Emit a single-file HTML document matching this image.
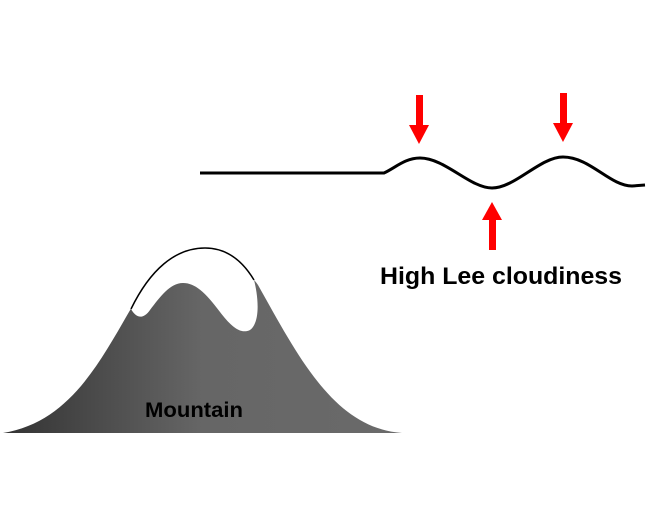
<!DOCTYPE html>
<html><head><style>html,body{margin:0;padding:0;background:#fff}svg{display:block}</style></head>
<body>
<svg width="650" height="524" viewBox="0 0 650 524" xmlns="http://www.w3.org/2000/svg">
<defs>
<linearGradient id="g" x1="0" x2="1" y1="0" y2="0">
<stop offset="0" stop-color="#333"/><stop offset="0.5" stop-color="#666"/><stop offset="1" stop-color="#6a6a6a"/>
</linearGradient>
</defs>
<path d="M3,433 C70,422 100,362 133,305 C160,255 235,250 258,285 C300,360 335,428 402,433 Z" fill="url(#g)"/>
<path d="M131,309 C150,270 175,248 205,248 C230,248 245,265 254,280 C258,295 261,322 250,330 C240,335 230,325 220,312 C205,292 195,283 183,283 C170,283 160,297 150,310 C143,320 136,318 131,309 Z" fill="#fff"/>
<path d="M131,309 C150,270 175,248 205,248 C230,248 245,265 254,280" fill="none" stroke="#000" stroke-width="1.5"/>
<text x="145" y="417" textLength="98" lengthAdjust="spacingAndGlyphs" font-family="Liberation Sans, sans-serif" font-weight="bold" font-size="21">Mountain</text>
<path d="M200,173 L384,173 C395,168 405,158 420,158 C445,158 470,188 492,188 C515,188 540,157 563,157 C590,157 610,186 632,186 L645,185" fill="none" stroke="#000" stroke-width="3"/>
<g fill="#f00">
<rect x="416" y="95" width="7" height="32"/><polygon points="409,125 429,125 419,144"/>
<rect x="560" y="93" width="7" height="32"/><polygon points="553,123 573,123 563,142"/>
<rect x="489" y="218" width="7" height="32"/><polygon points="482,220 502,220 492,202"/>
</g>
<text x="380" y="284" textLength="242" lengthAdjust="spacingAndGlyphs" font-family="Liberation Sans, sans-serif" font-weight="bold" font-size="24">High Lee cloudiness</text>
</svg>
</body></html>
